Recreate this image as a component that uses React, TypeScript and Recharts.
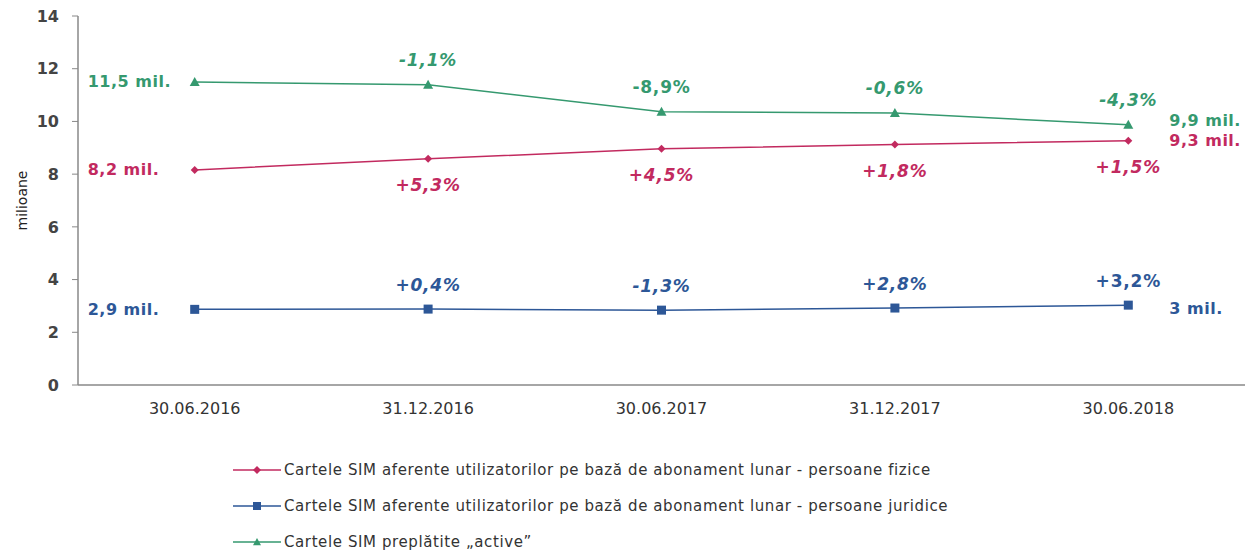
import React from 'react';
import { LineChart, Line, XAxis, YAxis, LabelList } from 'recharts';

const categories = ['30.06.2016', '31.12.2016', '30.06.2017', '31.12.2017', '30.06.2018'];
const fiziceValues = [8.16, 8.58, 8.96, 9.12, 9.27];
const juridiceValues = [2.87, 2.88, 2.84, 2.92, 3.03];
const preplatiteValues = [11.5, 11.39, 10.37, 10.32, 9.87];

const fiziceChange = ['', '+5,3%', '+4,5%', '+1,8%', '+1,5%'];
const juridiceChange = ['', '+0,4%', '-1,3%', '+2,8%', '+3,2%'];
const preplatiteChange = ['', '-1,1%', '-8,9%', '-0,6%', '-4,3%'];
// labels the source prints upright instead of italic
const uprightChange = ['-8,9%', '+3,2%'];

const fiziceEnds = ['8,2 mil.', '9,3 mil.'];
const juridiceEnds = ['2,9 mil.', '3 mil.'];
const preplatiteEnds = ['11,5 mil.', '9,9 mil.'];

const yTicks = [0, 2, 4, 6, 8, 10, 12, 14];

const RED = '#c22a5f';
const BLUE = '#2d5797';
const GREEN = '#35996f';

const data = categories.map((c, i) => ({
  x: i + 0.5,
  name: c,
  fizice: fiziceValues[i],
  juridice: juridiceValues[i],
  preplatite: preplatiteValues[i],
}));

const FONT = '"DejaVu Sans", Verdana, sans-serif';

const Diamond = ({ cx, cy, color, s = 4 }: any) =>
  cx == null ? null : (
    <path d={`M${cx},${cy - s}L${cx + s},${cy}L${cx},${cy + s}L${cx - s},${cy}Z`} fill={color} />
  );
const Square = ({ cx, cy, color, s = 4.5 }: any) =>
  cx == null ? null : <rect x={cx - s} y={cy - s} width={s * 2} height={s * 2} fill={color} />;
const Triangle = ({ cx, cy, color, s = 5 }: any) =>
  cx == null ? null : (
    <path d={`M${cx},${cy - s}L${cx + s},${cy + s * 0.8}L${cx - s},${cy + s * 0.8}Z`} fill={color} />
  );

const changeLabel = (labels: string[], color: string, dy: number) => (props: any) => {
  const { x, y, index } = props;
  const t = labels[index];
  if (!t) return null;
  return (
    <text
      x={x}
      y={y + dy}
      textAnchor="middle"
      dominantBaseline="central"
      fill={color}
      fontFamily={FONT}
      fontSize={17}
      letterSpacing={0.8}
      fontWeight="bold"
      fontStyle={uprightChange.includes(t) ? 'normal' : 'italic'}
    >
      {t}
    </text>
  );
};

const endLabel = (ends: string[], color: string, dyEnd: number) => (props: any) => {
  const { x, y, index } = props;
  if (index !== 0 && index !== categories.length - 1) return null;
  const first = index === 0;
  return (
    <text
      x={first ? x - 107 : x + 41}
      y={first ? y : y + dyEnd}
      textAnchor="start"
      dominantBaseline="central"
      fill={color}
      fontFamily={FONT}
      fontSize={16}
      letterSpacing={0.5}
      fontWeight="bold"
    >
      {first ? ends[0] : ends[1]}
    </text>
  );
};

const YLabel = ({ viewBox }: any) => (
  <text
    x={22}
    y={viewBox.y + viewBox.height / 2}
    transform={`rotate(-90, 22, ${viewBox.y + viewBox.height / 2})`}
    textAnchor="middle"
    dominantBaseline="central"
    fill="#222"
    fontFamily={FONT}
    fontSize={14}
  >
    milioane
  </text>
);

const legendItems = [
  { label: 'Cartele SIM aferente utilizatorilor pe bază de abonament lunar - persoane fizice', color: RED, Mark: Diamond },
  { label: 'Cartele SIM aferente utilizatorilor pe bază de abonament lunar - persoane juridice', color: BLUE, Mark: Square },
  { label: 'Cartele SIM preplătite „active”', color: GREEN, Mark: Triangle },
];

export default function App() {
  return (
    <div style={{ position: 'absolute', left: 0, top: 0, width: 1245, height: 550, background: '#fff' }}>
      <LineChart width={1245} height={420} data={data} margin={{ top: 16, right: 0, bottom: 0, left: 0 }}>
        <XAxis
          xAxisId="bounds"
          dataKey="x"
          type="number"
          domain={[0, 5]}
          ticks={[1, 2, 3, 4]}
          tick={false}
          axisLine={false}
          tickLine={{ stroke: '#888' }}
          tickSize={6}
          height={0}
        />
        <XAxis
          dataKey="x"
          type="number"
          domain={[0, 5]}
          ticks={data.map((d) => d.x)}
          tickFormatter={(v: number) => categories[Math.floor(v)]}
          tickLine={false}
          axisLine={{ stroke: '#888', strokeWidth: 1.5 }}
          tick={{ fill: '#333', fontFamily: FONT, fontSize: 16 }}
          tickMargin={12}
          height={35}
        />
        <YAxis
          domain={[0, 14]}
          ticks={yTicks}
          width={78}
          axisLine={{ stroke: '#888', strokeWidth: 1.5 }}
          tickLine={{ stroke: '#888' }}
          tickSize={6}
          tickMargin={13}
          tick={{ fill: '#444', fontFamily: FONT, fontSize: 16, fontWeight: 'bold' }}
          label={<YLabel />}
        />
        <Line
          dataKey="preplatite"
          stroke={GREEN}
          strokeWidth={1.5}
          isAnimationActive={false}
          dot={(p: any) => <Triangle key={p.index} cx={p.cx} cy={p.cy} color={GREEN} />}
          activeDot={false}
        >
          <LabelList dataKey="preplatite" content={changeLabel(preplatiteChange, GREEN, -25)} />
          <LabelList dataKey="preplatite" content={endLabel(preplatiteEnds, GREEN, -4)} />
        </Line>
        <Line
          dataKey="fizice"
          stroke={RED}
          strokeWidth={1.5}
          isAnimationActive={false}
          dot={(p: any) => <Diamond key={p.index} cx={p.cx} cy={p.cy} color={RED} />}
          activeDot={false}
        >
          <LabelList dataKey="fizice" content={changeLabel(fiziceChange, RED, 26)} />
          <LabelList dataKey="fizice" content={endLabel(fiziceEnds, RED, 0)} />
        </Line>
        <Line
          dataKey="juridice"
          stroke={BLUE}
          strokeWidth={1.5}
          isAnimationActive={false}
          dot={(p: any) => <Square key={p.index} cx={p.cx} cy={p.cy} color={BLUE} />}
          activeDot={false}
        >
          <LabelList dataKey="juridice" content={changeLabel(juridiceChange, BLUE, -24)} />
          <LabelList dataKey="juridice" content={endLabel(juridiceEnds, BLUE, 3)} />
        </Line>
      </LineChart>
      <div style={{ position: 'absolute', left: 233, top: 452, fontFamily: FONT, fontSize: 15, letterSpacing: 0.6, color: '#333' }}>
        {legendItems.map((it) => (
          <div key={it.label} style={{ display: 'flex', alignItems: 'center', height: 36 }}>
            <svg width={48} height={14} style={{ marginRight: 3 }}>
              <line x1={0} y1={7} x2={48} y2={7} stroke={it.color} strokeWidth={1.5} />
              <it.Mark cx={24} cy={7} color={it.color} s={4} />
            </svg>
            <span>{it.label}</span>
          </div>
        ))}
      </div>
    </div>
  );
}
